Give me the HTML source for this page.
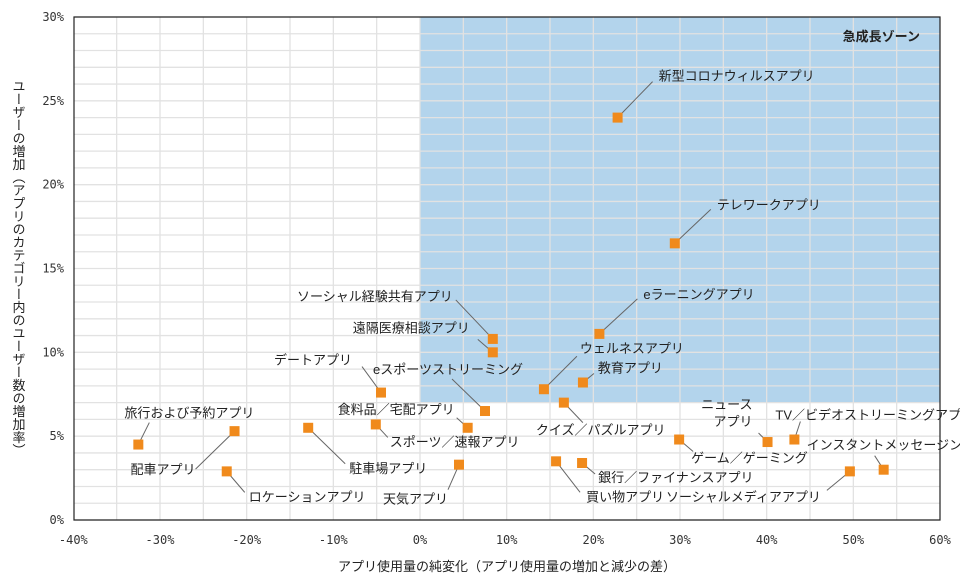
<!DOCTYPE html>
<html><head><meta charset="utf-8"><style>
body{margin:0;background:#fff;}
svg{display:block;font-family:"Liberation Sans","Noto Sans CJK JP",sans-serif;}
.tick{font-family:"DejaVu Sans Mono","Liberation Mono",monospace;font-size:12px;fill:#333;}
.lbl{font-size:13px;fill:#222;}
</style></head><body>
<svg id="chart" width="960" height="581"></svg>
<script>
const names=["新型コロナウィルスアプリ","テレワークアプリ","eラーニングアプリ","ソーシャル経験共有アプリ","遠隔医療相談アプリ","ウェルネスアプリ","教育アプリ","eスポーツストリーミング","クイズ／パズルアプリ","デートアプリ","食料品／宅配アプリ","スポーツ／速報アプリ","駐車場アプリ","天気アプリ","買い物アプリ","銀行／ファイナンスアプリ","ゲーム／ゲーミング","ニュース|アプリ","TV／ビデオストリーミングアプリ","インスタントメッセージング","ソーシャルメディアアプリ","旅行および予約アプリ","配車アプリ","ロケーションアプリ"];
const xVals=[22.8,29.4,20.7,8.4,8.4,14.3,18.8,7.5,16.6,-4.5,5.5,-5.1,-12.9,4.5,15.7,18.7,29.9,40.1,43.2,53.5,49.6,-32.5,-21.4,-22.3];
const yVals=[24.0,16.5,11.1,10.8,10.0,7.8,8.2,6.5,7.0,7.6,5.5,5.7,5.5,3.3,3.5,3.4,4.8,4.65,4.8,3.0,2.9,4.5,5.3,2.9];
const xTicks=[-40,-30,-20,-10,0,10,20,30,40,50,60];
const yTicks=[0,5,10,15,20,25,30];
const zoneY=7;
// label placement: [label dx, label dy, anchor, leader end dx, leader end dy]
const place=[[41,-41,"start",35,-36],[42,-38,"start",36,-34],[44,-39,"start",38,-35],[-40,-42,"end",-37,-39],[-23,-24,"end",-15,-13],[36,-40,"start",33,-33],[15,-14,"start",11,-9],[-112,-41,"start",-33,-32],[-28,28,"start",19,20],[-29,-32,"end",-19,-26],[-13,-18,"end",-11,-10],[14,18,"start",12,13],[41,41,"start",37,36],[-11,35,"end",-11,25],[30,36,"start",24,31],[16,15,"start",13,11],[12,19,"start",14,12],[-15,-29,"end",-9,-9],[-19,-24,"start",6,-18],[-77,-24,"start",-9,-14],[-29,26,"end",-23,19],[-14,-31,"start",11,-22],[-39,39,"end",-39,38],[22,26,"start",18,21]];
const L=74,R=940,T=17,B=520;
const sx=v=>420+(v)*(R-420)/60;
const sy=v=>B-(v)*(B-T)/30;
const svg=document.getElementById('chart');
const NS="http://www.w3.org/2000/svg";
function mk(tag,attrs,parent){const e=document.createElementNS(NS,tag);for(const k in attrs)e.setAttribute(k,attrs[k]);(parent||svg).appendChild(e);return e;}
const zone=mk('rect',{x:sx(0),y:T,width:R-sx(0),height:sy(zoneY)-T,fill:'#b3d4ec'});


for(let v=1;v<30;v++){const g=mk('line',{x1:L,x2:R,y1:sy(v),y2:sy(v),stroke:'#e2e2e2','stroke-width':1.3});

}
for(let v=-35;v<60;v+=5){const g=mk('line',{x1:sx(v),x2:sx(v),y1:T,y2:B,stroke:'#e2e2e2','stroke-width':1.3});

}
const ax=mk('path',{d:`M${L},${T}H${R}V${B}H${L}Z`,fill:'none',stroke:'#222','stroke-width':1.2});


const zt=mk('text',{x:920,y:41,'text-anchor':'end','font-size':13,'font-weight':'bold',fill:'#222'});zt.textContent='急成長ゾーン';


xTicks.forEach(v=>{const t=mk('text',{x:sx(v),y:544,'text-anchor':'middle',class:'tick'});t.textContent=v+'%';

});
yTicks.forEach(v=>{const t=mk('text',{x:64,y:sy(v)+4,'text-anchor':'end',class:'tick'});t.textContent=v+'%';

});
const xt=mk('text',{x:507,y:571,'text-anchor':'middle','font-size':13,fill:'#222'});xt.textContent='アプリ使用量の純変化（アプリ使用量の増加と減少の差）';


const yt=mk('text',{x:18,y:268,'text-anchor':'middle','font-size':13,fill:'#222','writing-mode':'tb','glyph-orientation-vertical':0,transform:''});
yt.textContent='ユーザーの増加（アプリのカテゴリー内のユーザー数の増加率）';
yt.setAttribute('style','writing-mode:vertical-rl;');


names.forEach((n,i)=>{
 const px=sx(xVals[i]),py=sy(yVals[i]);const p=place[i];
 const ln=mk('line',{x1:px,y1:py,x2:px+p[3],y2:py+p[4],stroke:'#666','stroke-width':1});
 
 
 const r=mk('rect',{x:px-5,y:py-5,width:10,height:10,fill:'#f08a1c'});
 
 
 const parts=n.split('|');
 parts.forEach((s,j)=>{
  const t=mk('text',{x:px+p[0],y:py+p[1]+4+j*17-(parts.length-1)*8,'text-anchor':p[2],class:'lbl'});t.textContent=s;
  
  
 });
});
</script>
</body></html>
